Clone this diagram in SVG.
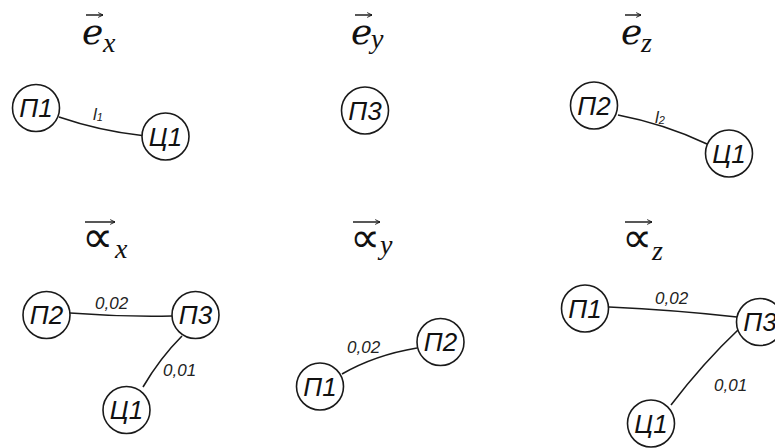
<svg xmlns="http://www.w3.org/2000/svg" width="775" height="448" viewBox="0 0 775 448">
<style>
.n circle{fill:#fff;stroke:#1a1a1a;stroke-width:1.6}
.n text{font-family:"Liberation Sans",Arial,sans-serif;font-style:italic;font-size:26px;fill:#111;text-anchor:middle}
.e path{fill:none;stroke:#1a1a1a;stroke-width:1.6}
.lbl{font-family:"Liberation Sans",Arial,sans-serif;font-style:italic;font-size:17px;fill:#222}
.t{font-family:"DejaVu Serif","Liberation Serif",serif;font-style:italic;fill:#111}
.s{font-family:"Liberation Serif","Times New Roman",serif;font-style:italic;fill:#111;font-size:28px}
.a{font-family:"DejaVu Sans",sans-serif;fill:#111}
.vec{stroke:#111;stroke-width:1.4;fill:none}
</style>
<defs>
<marker id="ah" viewBox="0 0 10 10" refX="9" refY="5" markerWidth="6" markerHeight="6" orient="auto" markerUnits="userSpaceOnUse">
<path d="M1,1 L9,5 L1,9" fill="none" stroke="#111" stroke-width="1.5"/>
</marker>
</defs>
<g id="titles">
<line class="vec" x1="86" y1="15" x2="103" y2="15" marker-end="url(#ah)"/>
<text class="t" x="82" y="44" font-size="36">e</text><text class="s" x="103" y="52">x</text>
<line class="vec" x1="355" y1="15" x2="372" y2="15" marker-end="url(#ah)"/>
<text class="t" x="351" y="44" font-size="36">e</text><text class="s" x="371" y="48">y</text>
<line class="vec" x1="625" y1="15" x2="641" y2="15" marker-end="url(#ah)"/>
<text class="t" x="621" y="44" font-size="36">e</text><text class="s" x="641" y="52">z</text>
<line class="vec" x1="85" y1="222" x2="115" y2="222" marker-end="url(#ah)"/>
<text class="a" x="82" y="252" font-size="44">∝</text><text class="s" x="115" y="258">x</text>
<line class="vec" x1="353" y1="222" x2="380" y2="222" marker-end="url(#ah)"/>
<text class="a" x="350" y="252" font-size="42">∝</text><text class="s" x="380" y="254">y</text>
<line class="vec" x1="625" y1="222" x2="652" y2="222" marker-end="url(#ah)"/>
<text class="a" x="622" y="252" font-size="42">∝</text><text class="s" x="652" y="260">z</text>
</g>
<g id="connectors" class="e">
<path d="M59,117 Q100,131 142,135.5"/>
<path d="M618,115 Q665,124 707,144"/>
<path d="M70,313 Q121,317 172,316"/>
<path d="M182,336 Q160,358 143,387"/>
<path d="M417,348 Q375,355 342,374"/>
<path d="M609,307 Q675,310 737,317"/>
<path d="M739,329 Q703,363 671,405"/>
</g>
<g id="labels">
<text class="lbl" x="93" y="120" font-size="18">l<tspan font-size="11" dy="1">1</tspan></text>
<text class="lbl" x="655" y="123" font-size="18">l<tspan font-size="11" dy="1">2</tspan></text>
<text class="lbl" x="95" y="309">0,02</text>
<text class="lbl" x="163" y="376">0,01</text>
<text class="lbl" x="347" y="353">0,02</text>
<text class="lbl" x="655" y="304">0,02</text>
<text class="lbl" x="714" y="391">0,01</text>
</g>
<g id="ex-P1" class="n"><circle cx="36" cy="108" r="23.5"/><text x="36" y="117">П1</text></g>
<g id="ex-C1" class="n"><circle cx="165.5" cy="136.5" r="23.5"/><text x="165.5" y="145.5">Ц1</text></g>
<g id="ey-P3" class="n"><circle cx="365" cy="110.5" r="23.5"/><text x="365" y="119.5">П3</text></g>
<g id="ez-P2" class="n"><circle cx="594" cy="105.5" r="23.5"/><text x="594" y="114.5">П2</text></g>
<g id="ez-C1" class="n"><circle cx="729" cy="153.5" r="23.5"/><text x="729" y="162.5">Ц1</text></g>
<g id="ax-P2" class="n"><circle cx="46.5" cy="315" r="23.5"/><text x="46.5" y="324">П2</text></g>
<g id="ax-P3" class="n"><circle cx="195.5" cy="315" r="23.5"/><text x="195.5" y="324">П3</text></g>
<g id="ax-C1" class="n"><circle cx="126.5" cy="410" r="23.5"/><text x="126.5" y="419">Ц1</text></g>
<g id="ay-P2" class="n"><circle cx="440.5" cy="342" r="23.5"/><text x="440.5" y="351">П2</text></g>
<g id="ay-P1" class="n"><circle cx="320" cy="386.5" r="23.5"/><text x="320" y="395.5">П1</text></g>
<g id="az-P1" class="n"><circle cx="585" cy="308.5" r="23.5"/><text x="585" y="317.5">П1</text></g>
<g id="az-P3" class="n"><circle cx="760" cy="322" r="23.5"/><text x="760" y="331">П3</text></g>
<g id="az-C1" class="n"><circle cx="651" cy="423.5" r="23.5"/><text x="651" y="432.5">Ц1</text></g>
</svg>
